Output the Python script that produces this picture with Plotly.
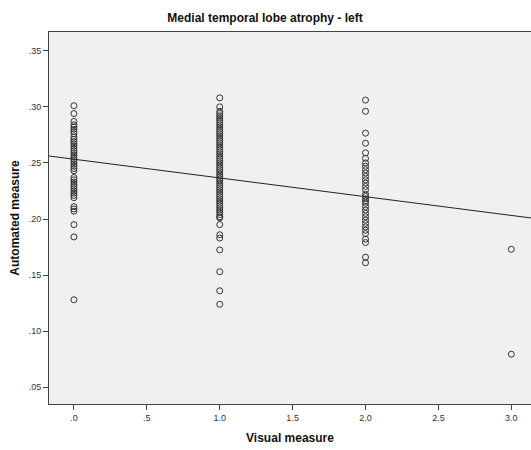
import plotly.graph_objects as go

# Visual measure categories and automated measure values
visual_0 = [0.301, 0.294, 0.287, 0.284, 0.282, 0.280, 0.278, 0.276, 0.273, 0.271,
            0.269, 0.267, 0.265, 0.263, 0.261, 0.259, 0.257, 0.255, 0.253, 0.251,
            0.249, 0.247, 0.245, 0.243, 0.237, 0.235, 0.233, 0.231, 0.229, 0.227,
            0.225, 0.223, 0.221, 0.219, 0.211, 0.209, 0.207, 0.195, 0.184, 0.128]
visual_1 = [0.308, 0.300, 0.296, 0.294, 0.292, 0.290, 0.288, 0.286, 0.284, 0.282,
            0.280, 0.278, 0.276, 0.274, 0.272, 0.270, 0.268, 0.266, 0.264, 0.262,
            0.260, 0.258, 0.256, 0.254, 0.252, 0.250, 0.248, 0.246, 0.244, 0.242,
            0.240, 0.238, 0.236, 0.234, 0.232, 0.230, 0.228, 0.226, 0.224, 0.222,
            0.220, 0.218, 0.216, 0.214, 0.212, 0.210, 0.208, 0.206, 0.204, 0.202,
            0.201, 0.195, 0.186, 0.183, 0.1725, 0.153, 0.136, 0.124]
visual_2 = [0.306, 0.296, 0.2765, 0.2675, 0.259, 0.254, 0.250, 0.247, 0.244, 0.241,
            0.238, 0.235, 0.232, 0.229, 0.226, 0.222, 0.220, 0.218, 0.216, 0.214,
            0.211, 0.208, 0.205, 0.202, 0.199, 0.196, 0.193, 0.190, 0.187, 0.182,
            0.179, 0.166, 0.161]
visual_3 = [0.173, 0.0795]

groups = [0, 1, 2, 3]
group_values = [visual_0, visual_1, visual_2, visual_3]

# Fitted regression line
fit_intercept = 0.2533
fit_slope = -0.0167
x_range = [-0.171, 3.135]
y_range = [0.0351, 0.3667]

x_tickvals = [0, 0.5, 1.0, 1.5, 2.0, 2.5, 3.0]
x_ticktext = [".0", ".5", "1.0", "1.5", "2.0", "2.5", "3.0"]
y_tickvals = [0.05, 0.10, 0.15, 0.20, 0.25, 0.30, 0.35]
y_ticktext = [".05", ".10", ".15", ".20", ".25", ".30", ".35"]

xs, ys = [], []
for g, vals in zip(groups, group_values):
    xs += [g] * len(vals)
    ys += vals

fig = go.Figure()
fig.add_trace(go.Scatter(
    x=xs, y=ys, mode="markers",
    marker=dict(symbol="circle-open", size=6, color="#333333", line=dict(width=1, color="#333333")),
    showlegend=False, hoverinfo="skip"))
fig.add_trace(go.Scatter(
    x=x_range, y=[fit_intercept + fit_slope * v for v in x_range], mode="lines",
    line=dict(color="#222222", width=1), showlegend=False, hoverinfo="skip"))

font_family = "Liberation Sans, Arial, sans-serif"
fig.update_layout(
    width=531, height=450,
    margin=dict(l=49, r=0, t=32, b=46),
    paper_bgcolor="white", plot_bgcolor="#f0f0f0",
    font=dict(family=font_family, color="#333333", size=9),
    title=dict(text="<b>Medial temporal lobe atrophy - left</b>", x=265/531, xanchor="center",
               y=1 - 18/450, yanchor="middle", font=dict(size=12, color="#111111")),
    xaxis=dict(range=x_range, tickvals=x_tickvals, ticktext=x_ticktext,
               showgrid=False, zeroline=False, showline=True, linecolor="#444444", linewidth=1,
               mirror=True, ticks="outside", ticklen=5, tickcolor="#444444",
               title=dict(text="<b>Visual measure</b>", font=dict(size=12, color="#111111"), standoff=11)),
    yaxis=dict(range=y_range, tickvals=y_tickvals, ticktext=y_ticktext,
               showgrid=False, zeroline=False, showline=True, linecolor="#444444", linewidth=1,
               ticks="outside", ticklen=5, tickcolor="#444444",
               title=dict(text="<b>Automated measure</b>", font=dict(size=12, color="#111111"), standoff=6)),
)

fig.write_html("out.html")
